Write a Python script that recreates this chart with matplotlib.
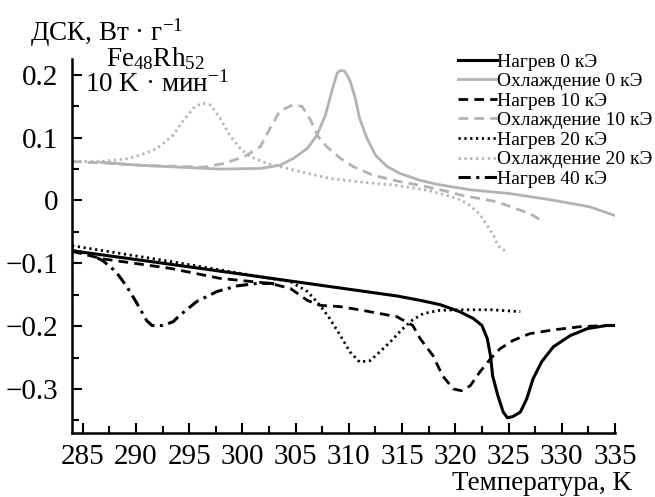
import matplotlib
matplotlib.use("Agg")
import matplotlib.pyplot as plt
from matplotlib.ticker import MultipleLocator

plt.rcParams['font.family'] = ['Liberation Serif', 'DejaVu Serif']
plt.rcParams['mathtext.fontset'] = 'custom'
plt.rcParams['mathtext.rm'] = 'Liberation Serif'
plt.rcParams['mathtext.it'] = 'Liberation Serif:italic'

# heating curves (black)
t_h0 = [284.0, 296.0, 308.2, 314.5, 316.7, 318.6, 320.4, 321.7, 322.5, 323.0, 323.3, 323.5,
        324.0, 324.5, 324.9, 325.4, 326.1, 326.7, 327.3, 328.1, 329.2, 330.8, 332.4, 334.2, 335.0]
v_h0 = [-0.080, -0.108, -0.137, -0.152, -0.159, -0.166, -0.177, -0.188, -0.199, -0.220, -0.247, -0.279,
        -0.311, -0.337, -0.346, -0.344, -0.337, -0.316, -0.284, -0.257, -0.233, -0.215, -0.204, -0.199, -0.199]

t_h10 = [284.0, 286.9, 293.2, 297.9, 302.6, 304.5, 306.1, 307.3, 309.2, 311.3, 314.5, 316.0,
         316.7, 317.9, 318.8, 319.8, 320.6, 321.4, 322.3, 323.3, 324.2, 325.4, 327.0, 329.2,
         331.7, 334.2, 335.0]
v_h10 = [-0.081, -0.093, -0.108, -0.124, -0.132, -0.140, -0.159, -0.167, -0.169, -0.175, -0.185, -0.199,
         -0.220, -0.247, -0.279, -0.300, -0.303, -0.295, -0.273, -0.252, -0.236, -0.223, -0.212, -0.206,
         -0.201, -0.199, -0.199]

t_h20 = [284.0, 293.2, 302.6, 304.5, 306.1, 307.3, 308.2, 309.2, 310.1, 311.0, 312.0, 312.9,
         313.9, 315.0, 316.0, 317.0, 318.5, 320.4, 323.4, 326.1]
v_h20 = [-0.072, -0.097, -0.124, -0.129, -0.145, -0.167, -0.188, -0.215, -0.241, -0.257, -0.255, -0.241,
         -0.225, -0.205, -0.190, -0.180, -0.175, -0.174, -0.174, -0.177]

t_h40 = [284.0, 285.7, 286.9, 288.1, 289.1, 290.0, 291.0, 291.5, 292.5, 293.5, 294.1, 295.7, 297.6,
         299.5, 301.4, 302.8, 303.3]
v_h40 = [-0.080, -0.085, -0.096, -0.113, -0.136, -0.161, -0.191, -0.199, -0.199, -0.193, -0.183, -0.161,
         -0.145, -0.136, -0.132, -0.132, -0.136]

# cooling curves (gray)
t_c0 = [286.6, 290.4, 294.1, 297.9, 301.7, 303.5, 304.8, 306.1, 307.0, 307.8, 308.4, 308.9,
        309.2, 309.6, 310.1, 310.6, 311.0, 311.7, 312.5, 313.6, 314.8, 316.7, 318.5, 321.4,
        325.1, 329.0, 332.6, 335.0]
v_c0 = [0.061, 0.056, 0.053, 0.050, 0.051, 0.056, 0.067, 0.083, 0.104, 0.136, 0.174, 0.203,
        0.207, 0.206, 0.191, 0.163, 0.131, 0.099, 0.072, 0.054, 0.043, 0.032, 0.025, 0.017,
        0.011, 0.001, -0.010, -0.024]

t_c10 = [284.0, 287.6, 290.4, 294.5, 296.4, 298.3, 300.2, 301.7, 302.6, 303.5, 304.7, 305.6,
         306.4, 307.1, 307.9, 309.2, 310.4, 312.3, 314.8, 316.7, 318.6, 320.7, 323.9, 327.0, 328.1]
v_c10 = [0.062, 0.059, 0.056, 0.054, 0.053, 0.059, 0.070, 0.086, 0.115, 0.142, 0.152, 0.150,
         0.128, 0.102, 0.086, 0.067, 0.054, 0.040, 0.030, 0.024, 0.017, 0.008, -0.002, -0.021, -0.032]

t_c20 = [284.1, 286.6, 289.0, 290.4, 292.0, 293.5, 294.4, 295.4, 296.2, 297.0, 297.9, 298.8,
         299.8, 300.7, 302.3, 303.5, 305.4, 308.2, 311.3, 314.5, 317.5, 319.2, 320.5, 321.4,
         322.3, 323.0, 323.6, 324.0, 324.7]
v_c20 = [0.062, 0.062, 0.066, 0.072, 0.083, 0.104, 0.126, 0.147, 0.155, 0.152, 0.131, 0.104,
         0.083, 0.070, 0.059, 0.054, 0.046, 0.035, 0.029, 0.024, 0.016, 0.008, 0.001, -0.008,
         -0.022, -0.040, -0.056, -0.072, -0.081]

labels = ["Нагрев 0 кЭ", "Охлаждение 0 кЭ", "Нагрев 10 кЭ", "Охлаждение 10 кЭ",
          "Нагрев 20 кЭ", "Охлаждение 20 кЭ", "Нагрев 40 кЭ"]

gray = '#b3b3b3'
fig = plt.figure(figsize=(6.55, 4.97), dpi=100)
ax = fig.add_axes([0.110, 0.129, 0.829, 0.752])

ax.plot(t_h0, v_h0, color='black', lw=2.2, label=labels[0])
ax.plot(t_c0, v_c0, color=gray, lw=2.0, label=labels[1])
ax.plot(t_h10, v_h10, color='black', lw=2.0, dashes=(3.5, 2.2), label=labels[2])
ax.plot(t_c10, v_c10, color=gray, lw=2.0, dashes=(3.5, 2.2), label=labels[3])
ax.plot(t_h20, v_h20, color='black', lw=2.0, dashes=(0.8, 1.3), label=labels[4])
ax.plot(t_c20, v_c20, color=gray, lw=2.0, dashes=(0.8, 1.3), label=labels[5])
ax.plot(t_h40, v_h40, color='black', lw=2.2, dashes=(4, 1.8, 1, 1.8), label=labels[6])

ax.set_xlim(284, 335)
ax.set_ylim(-0.37, 0.225)
ax.spines['top'].set_visible(False)
ax.spines['right'].set_visible(False)
ax.spines['left'].set_linewidth(1.8)
ax.spines['bottom'].set_linewidth(1.8)
ax.xaxis.set_major_locator(MultipleLocator(5))
ax.xaxis.set_minor_locator(MultipleLocator(2.5))
ax.yaxis.set_major_locator(MultipleLocator(0.1))
ax.yaxis.set_minor_locator(MultipleLocator(0.05))
ax.tick_params(which='both', direction='in', width=1.5, labelsize=21)
ax.tick_params(which='major', length=7)
ax.tick_params(which='minor', length=5)
ax.tick_params(axis='x', pad=8)
ax.tick_params(axis='y', pad=10)
ax.yaxis.set_major_formatter(plt.FuncFormatter(
    lambda v, p: '0' if abs(v) < 1e-9 else f'{v:.1f}'.replace('-', '\u2212')))

fig.text(0.046, 0.934, 'ДСК, Вт · г$^{-1}$', fontsize=19.5, va='center', ha='left')
fig.text(0.238, 0.881, 'Fe$_{48}$Rh$_{52}$', fontsize=19.5, va='center', ha='center')
fig.text(0.130, 0.830, '10 K · мин$^{-1}$', fontsize=19.5, va='center', ha='left')
fig.text(0.965, 0.028, 'Температура, K', fontsize=19.5, va='center', ha='right')

fig.legend(loc='upper right', bbox_to_anchor=(1.010, 0.913), frameon=False, fontsize=14,
           handlelength=2.0, handletextpad=0.0, labelspacing=0.1, borderaxespad=0.1)

fig.savefig('out.png', dpi=100)
